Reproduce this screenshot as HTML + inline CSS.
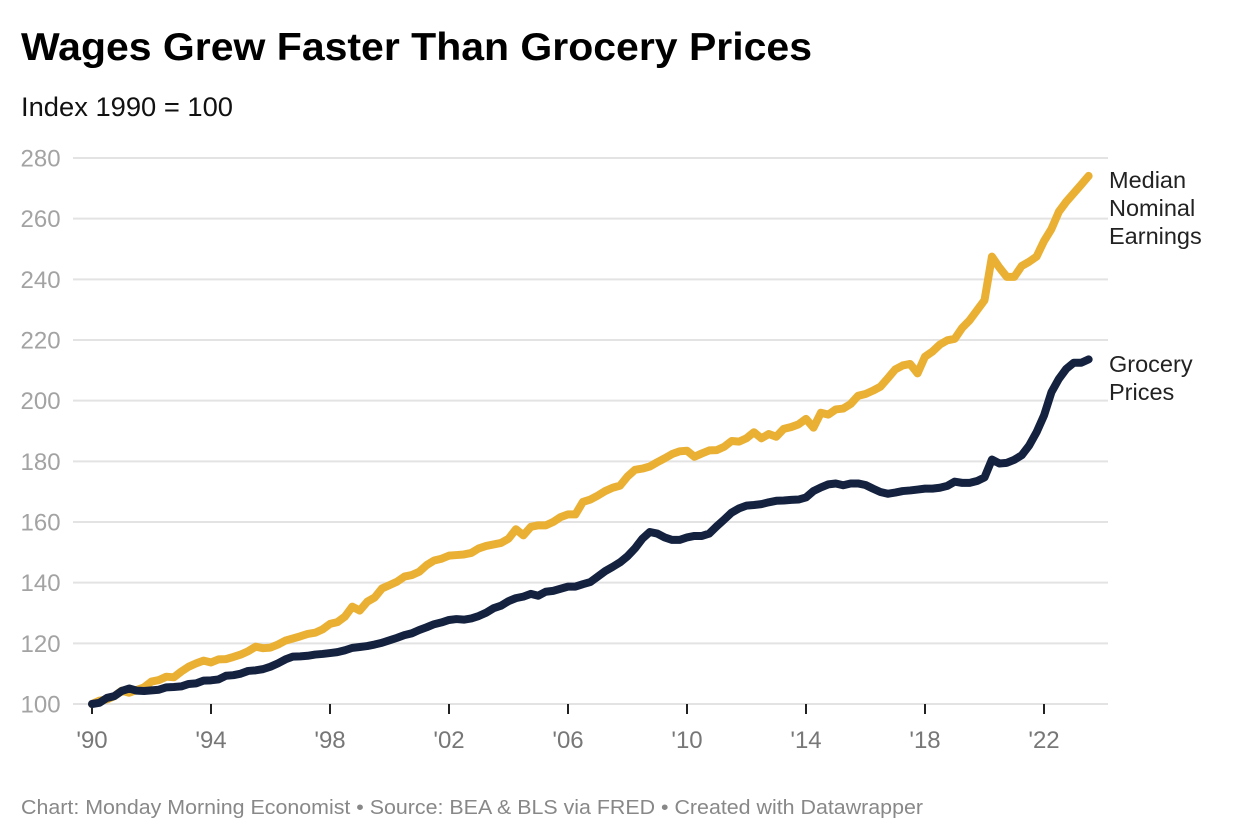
<!DOCTYPE html>
<html lang="en">
<head>
<meta charset="utf-8">
<title>Wages Grew Faster Than Grocery Prices</title>
<style>
html,body{margin:0;padding:0;background:#fff;}
body{width:1240px;height:840px;overflow:hidden;}
svg{display:block;font-family:"Liberation Sans",sans-serif;}
</style>
</head>
<body>
<svg id="chart" xmlns="http://www.w3.org/2000/svg" width="1240" height="840" viewBox="0 0 1240 840">
  <rect x="0" y="0" width="1240" height="840" fill="#ffffff"/>
  <text x="21" y="60" font-size="39" font-weight="700" fill="#000000" textLength="791" lengthAdjust="spacingAndGlyphs">Wages Grew Faster Than Grocery Prices</text>
  <text x="21" y="116" font-size="27" fill="#111111" textLength="212" lengthAdjust="spacingAndGlyphs">Index 1990 = 100</text>
  <g id="grid"></g>
  <g id="y-labels"></g>
  <g id="x-axis"></g>
  <g id="series"></g>
  <g font-size="23.5" fill="#222222">
    <text x="1109" y="188">Median</text>
    <text x="1109" y="216">Nominal</text>
    <text x="1109" y="244">Earnings</text>
  </g>
  <g font-size="23.5" fill="#222222">
    <text x="1109" y="372">Grocery</text>
    <text x="1109" y="400">Prices</text>
  </g>
  <text x="21" y="814" font-size="20.5" fill="#888888" textLength="902" lengthAdjust="spacingAndGlyphs">Chart: Monday Morning Economist • Source: BEA &amp; BLS via FRED • Created with Datawrapper</text>
</svg>
<script>
const startYear = 1990;
const pointsPerYear = 4;
const yTicks = [100, 120, 140, 160, 180, 200, 220, 240, 260, 280];
const xTickYears = [1990, 1994, 1998, 2002, 2006, 2010, 2014, 2018, 2022];
const xTickLabels = ["'90", "'94", "'98", "'02", "'06", "'10", "'14", "'18", "'22"];
const earnings = [
  100, 101.1, 101.5, 102.6, 104.4, 103.7, 104.6, 105.5, 107.4, 107.9,
  109, 108.8, 110.7, 112.3, 113.4, 114.3, 113.7, 114.7, 114.8, 115.5,
  116.3, 117.4, 118.9, 118.4, 118.6, 119.6, 120.9, 121.6, 122.3, 123.1,
  123.5, 124.6, 126.4, 127, 128.8, 132.1, 130.8, 133.7, 135.1, 138.1,
  139.2, 140.3, 142, 142.5, 143.6, 145.8, 147.3, 147.9, 148.9, 149.1,
  149.3, 149.8, 151.3, 152.1, 152.6, 153.1, 154.5, 157.6, 155.6, 158.4,
  158.9, 158.9, 160, 161.6, 162.5, 162.5, 166.6, 167.4, 168.7, 170.2,
  171.3, 172, 175, 177.2, 177.6, 178.3, 179.7, 181, 182.4, 183.3,
  183.5, 181.5, 182.6, 183.6, 183.7, 184.8, 186.7, 186.5, 187.6, 189.6,
  187.6, 189, 188.1, 190.7, 191.3, 192.2, 194, 191.1, 196, 195.4,
  197.1, 197.4, 198.9, 201.6, 202.2, 203.3, 204.6, 207.4, 210.3, 211.6,
  212.1, 209, 214.5, 216.2, 218.5, 219.9, 220.4, 224, 226.5, 229.8,
  233.1, 247.5, 243.9, 240.8, 240.8, 244.4, 245.8, 247.5, 252.6, 256.6,
  262.3, 265.6, 268.4, 271.2, 274.1
];
const grocery = [
  100, 100.4, 102, 102.6, 104.3, 105.1, 104.4, 104.3, 104.5, 104.7,
  105.5, 105.6, 105.8, 106.6, 106.8, 107.7, 107.8, 108.1, 109.3, 109.5,
  110, 110.9, 111.1, 111.5, 112.3, 113.4, 114.7, 115.6, 115.7, 115.9,
  116.3, 116.5, 116.8, 117.1, 117.7, 118.5, 118.8, 119.1, 119.6, 120.2,
  121, 121.8, 122.7, 123.3, 124.4, 125.3, 126.3, 126.9, 127.7, 128,
  127.8, 128.2, 129, 130.1, 131.6, 132.4, 133.9, 134.9, 135.4, 136.3,
  135.7, 137, 137.3, 138, 138.7, 138.7, 139.5, 140.2, 142, 143.8,
  145.2, 146.7, 148.7, 151.3, 154.5, 156.7, 156.2, 154.9, 154.1, 154.1,
  154.9, 155.4, 155.4, 156.2, 158.6, 160.8, 163.1, 164.5, 165.4, 165.6,
  165.9, 166.5, 167, 167.1, 167.3, 167.4, 168.1, 170.2, 171.4, 172.4,
  172.7, 172.1, 172.7, 172.7, 172.2, 171, 169.9, 169.3, 169.7, 170.2,
  170.4, 170.7, 171, 171, 171.3, 171.9, 173.3, 172.9, 172.9, 173.5,
  174.7, 180.6, 179.3, 179.5, 180.5, 182, 185.2, 189.6, 195.1, 202.8,
  207.2, 210.5, 212.5, 212.5, 213.6
];

const NS = 'http://www.w3.org/2000/svg';
const yBase = 704, yPerUnit = (704 - 158) / 180;
const xBase = 92, xPerYear = 29.75;
function yScale(v) { return yBase - (v - 100) * yPerUnit; }
function xScale(year) { return xBase + (year - 1990) * xPerYear; }
function make(tag, attrs, parent) {
  const el = document.createElementNS(NS, tag);
  for (const k in attrs) el.setAttribute(k, attrs[k]);
  parent.appendChild(el);
  return el;
}
const gridG = document.getElementById('grid');
const yLabelG = document.getElementById('y-labels');
const xAxisG = document.getElementById('x-axis');
const seriesG = document.getElementById('series');

yTicks.forEach(function (t) {
  const line = make('line', { x1: 73, x2: 1108, y1: yScale(t), y2: yScale(t), stroke: '#e3e3e3', 'stroke-width': 2 }, gridG);
  
  
  const label = make('text', { x: 20.5, y: yScale(t) + 8.5, 'font-size': 24, fill: '#a3a3a3' }, yLabelG);
  label.textContent = String(t);
  
  
});

xTickYears.forEach(function (yr, i) {
  const tick = make('line', { x1: xScale(yr), x2: xScale(yr), y1: 704, y2: 714, stroke: '#222222', 'stroke-width': 2 }, xAxisG);
  
  
  const label = make('text', { x: xScale(yr), y: 748, 'font-size': 24, fill: '#777777', 'text-anchor': 'middle' }, xAxisG);
  label.textContent = xTickLabels[i];
  
  
});

function linePath(values) {
  return values.map(function (v, i) {
    return (i ? 'L' : 'M') + xScale(startYear + i / pointsPerYear).toFixed(2) + ' ' + yScale(v).toFixed(2);
  }).join('');
}
const earningsLine = make('path', { d: linePath(earnings), fill: 'none', stroke: '#e9b034', 'stroke-width': 8, 'stroke-linejoin': 'round', 'stroke-linecap': 'round' }, seriesG);


const groceryLine = make('path', { d: linePath(grocery), fill: 'none', stroke: '#142240', 'stroke-width': 8, 'stroke-linejoin': 'round', 'stroke-linecap': 'round' }, seriesG);


</script>
</body>
</html>
